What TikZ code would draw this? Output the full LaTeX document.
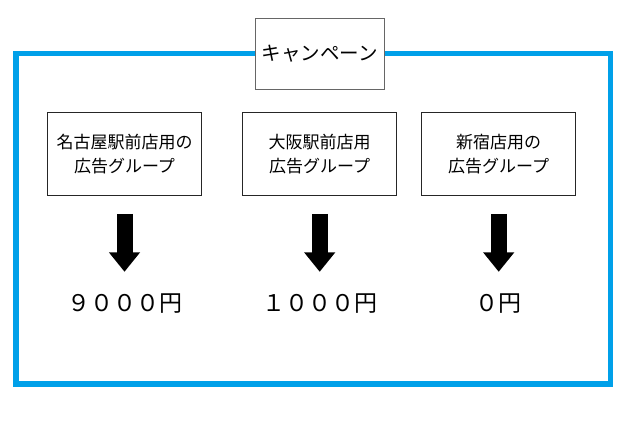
\documentclass[tikz,border=0pt]{standalone}
\usepackage{fontspec}
\setmainfont{Noto Sans CJK JP}
\usetikzlibrary{arrows.meta}
\definecolor{frameblue}{RGB}{0,160,233}

\begin{document}
\begin{tikzpicture}[x=1pt,y=-1pt,
  group/.style={draw=black!85,line width=0.8pt,minimum width=154pt,minimum height=83pt,
    align=center,inner sep=0pt,font=\fontsize{17}{24}\selectfont},
  amount/.style={inner sep=0pt,text height=16pt,text depth=0pt,font=\fontsize{23}{26}\selectfont},
  bigarrow/.style={line width=16pt,-{Triangle[width=30pt,length=19.5pt]},
    shorten <=18pt,shorten >=24pt}]
\useasboundingbox (0,0) rectangle (640,427);
\draw[frameblue,line width=5.5pt] (16,53.7) rectangle (610.5,384); % edit here for the frame
\node[draw=black!60,fill=white,line width=0.8pt,minimum width=129.5pt,minimum height=70.7pt,
  inner sep=0pt,font=\fontsize{19.5}{24}\selectfont] (camp) at (319.7,53.7) {キャンペーン};
\foreach \x/\n/\txt/\amt in {124.5/1/{名古屋駅前店用の\\広告グループ}/{９０００円},
  319.7/2/{大阪駅前店用\\広告グループ}/{１０００円},
  498.7/3/{新宿店用の\\広告グループ}/{０円}} % edit here for the groups
{
\node[group] (g\n) at (\x,154) {\txt};
\node[amount] (a\n) at (\x,304) {\amt};
\draw[bigarrow] (g\n) -- (a\n);
}
\end{tikzpicture}
\end{document}
